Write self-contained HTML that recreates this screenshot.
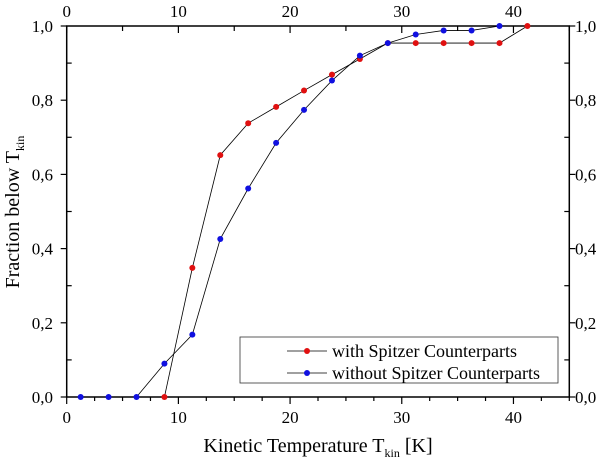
<!DOCTYPE html>
<html><head><meta charset="utf-8"><style>
body{margin:0;background:#fff}
svg{display:block;font-family:"Liberation Serif",serif}
</style></head><body>
<svg id="c" width="600" height="463"></svg>
<script>
const redX=[8.75,11.25,13.75,16.25,18.75,21.25,23.75,26.25,28.75,31.25,33.75,36.25,38.75,41.25];
const redY=[0,0.348,0.652,0.738,0.782,0.826,0.869,0.911,0.954,0.954,0.954,0.954,0.954,1.0];
const blueX=[1.25,3.75,6.25,8.75,11.25,13.75,16.25,18.75,21.25,23.75,26.25,28.75,31.25,33.75,36.25,38.75];
const blueY=[0,0,0,0.09,0.168,0.426,0.562,0.685,0.774,0.853,0.92,0.954,0.977,0.988,0.988,1.0];
const xTicks=[0,10,20,30,40];
const yTicks=["0,0","0,2","0,4","0,6","0,8","1,0"];
const L=66.7,R=569.3,T=26,B=397;
const sx=v=>L+(R-L)*v/45, sy=v=>B-(B-T)*v;
const svg=document.getElementById('c');const NS='http://www.w3.org/2000/svg';
function mk(t,a,p){const e=document.createElementNS(NS,t);for(const k in a)e.setAttribute(k,a[k]);(p||svg).appendChild(e);return e;}
let e=mk('rect',{x:L,y:T,width:R-L,height:B-T,fill:'none',stroke:'#000','stroke-width':1.5});


for(let v=0;v<=45;v+=2.5){const x=sx(v),maj=v%10===0;
 mk('line',{x1:x,x2:x,y1:B,y2:B+(maj?7:4),stroke:'#000','stroke-width':1.2});
 if(v%5===0)mk('line',{x1:x,x2:x,y1:T,y2:T+(maj?7:5),stroke:'#000','stroke-width':1.2});}
for(let i=0;i<=10;i++){const y=sy(i/10),maj=i%2===0;
 mk('line',{x1:L,x2:L+(maj?-6:5),y1:y,y2:y,stroke:'#000','stroke-width':1.2});
 mk('line',{x1:R,x2:R+(maj?6:-5),y1:y,y2:y,stroke:'#000','stroke-width':1.2});}
xTicks.forEach(v=>{
 e=mk('text',{x:sx(v),y:423,'text-anchor':'middle','font-size':17});e.textContent=v;
 
 
 e=mk('text',{x:sx(v),y:17,'text-anchor':'middle','font-size':17});e.textContent=v;
 
 });
yTicks.forEach((t,i)=>{const y=sy(i*0.2)+6;
 e=mk('text',{x:53,y:y,'text-anchor':'end','font-size':17});e.textContent=t;
 
 
 e=mk('text',{x:575,y:y,'font-size':17});e.textContent=t;
 
 });
function series(X,Y,col,name){
 e=mk('polyline',{points:X.map((x,i)=>sx(x)+','+sy(Y[i])).join(' '),fill:'none',stroke:'#000','stroke-width':0.8});
 
 
 X.forEach((x,i)=>{e=mk('circle',{cx:sx(x),cy:sy(Y[i]),r:3,fill:col});
 
 });}
series(redX,redY,'#e01010','with-spitzer');
series(blueX,blueY,'#1010e0','without-spitzer');
e=mk('rect',{x:240,y:337,width:318,height:46,fill:'#fff',stroke:'#333','stroke-width':0.8});


[['#e01010','with Spitzer Counterparts',351],['#1010e0','without Spitzer Counterparts',373]].forEach(([c,t,y])=>{
 mk('line',{x1:287,x2:327,y1:y,y2:y,stroke:'#000','stroke-width':0.8});
 mk('circle',{cx:307,cy:y,r:3,fill:c});
 e=mk('text',{x:332,y:y+6,'font-size':18});e.textContent=t;
 
 });
e=mk('text',{x:318,y:452,'text-anchor':'middle','font-size':20});
e.innerHTML='Kinetic Temperature T<tspan font-size="12" dy="5">kin</tspan><tspan dy="-5"> [K]</tspan>';


e=mk('text',{x:0,y:0,'text-anchor':'middle','font-size':20,transform:'translate(19,212) rotate(-90)'});
e.innerHTML='Fraction below T<tspan font-size="12" dy="5">kin</tspan>';


</script>
</body></html>
